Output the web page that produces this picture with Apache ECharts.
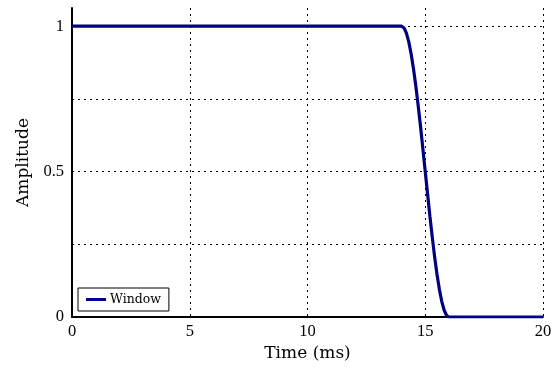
<!DOCTYPE html>
<html><head><meta charset="utf-8">
<script src="https://cdn.jsdelivr.net/npm/echarts@6/dist/echarts.min.js"></script>
<style>html,body{margin:0;padding:0;background:#fff}#c{width:555px;height:367px}</style>
</head><body><div id="c"></div>
<script>
var timeMs = [0, 14.0, 14.1, 14.2, 14.3, 14.4, 14.5, 14.6, 14.7, 14.8, 14.9, 15.0, 15.1, 15.2, 15.3, 15.4, 15.5, 15.6, 15.7, 15.8, 15.9, 16.0, 20];
var amplitude = [1, 1, 0.994, 0.976, 0.946, 0.905, 0.854, 0.794, 0.727, 0.655, 0.578, 0.5, 0.422, 0.345, 0.273, 0.206, 0.146, 0.095, 0.054, 0.024, 0.006, 0, 0];
var xTicks = [0, 5, 10, 15, 20];
var yLabels = [0, 0.5, 1];
var seriesName = 'Window';

var serif = '"DejaVu Serif", "Liberation Serif", serif';
var tickFont = '"Liberation Serif", "DejaVu Serif", serif';
var chart = echarts.init(document.getElementById('c'), null, {renderer: 'canvas'});
var pts = timeMs.map(function (t, i) { return [t, amplitude[i]]; });
chart.setOption({
  animation: false,
  backgroundColor: '#fff',
  grid: {left: 72, right: 12, top: 8, bottom: 50},
  legend: {
    show: true, left: 78, bottom: 56,
    data: [seriesName],
    icon: 'rect', itemWidth: 20, itemHeight: 3, itemGap: 6, itemStyle: {borderWidth: 0},
    padding: [5, 8],
    borderColor: '#000', borderWidth: 1, backgroundColor: '#fff',
    textStyle: {fontFamily: serif, fontSize: 12.5, color: '#000', padding: [0, 0, 0, -1]}
  },
  xAxis: {
    type: 'value', min: xTicks[0], max: xTicks[xTicks.length - 1], interval: 5,
    name: 'Time (ms)', nameLocation: 'middle', nameGap: 26,
    nameTextStyle: {fontFamily: serif, fontSize: 17, color: '#000'},
    axisLine: {show: true, lineStyle: {color: '#000', width: 2}},
    axisTick: {show: false},
    axisLabel: {fontFamily: tickFont, fontSize: 16.5, color: '#000', margin: 6},
    splitLine: {show: true, showMinLine: false, lineStyle: {color: '#000', type: [2, 4], width: 1}}
  },
  yAxis: {
    type: 'value', min: 0, max: 1.0625, interval: 0.25,
    name: 'Amplitude', nameLocation: 'middle', nameGap: 40, nameRotate: 90,
    nameTextStyle: {fontFamily: serif, fontSize: 17, color: '#000'},
    axisLine: {show: true, lineStyle: {color: '#000', width: 2}},
    axisTick: {show: false},
    axisLabel: {fontFamily: tickFont, fontSize: 16.5, color: '#000', margin: 8, showMaxLabel: false,
      formatter: function (v) { return yLabels.indexOf(v) >= 0 ? String(v) : ''; }},
    splitLine: {show: true, showMinLine: false, showMaxLine: false, lineStyle: {color: '#000', type: [2, 4], width: 1}}
  },
  series: [{
    name: seriesName, type: 'line', data: pts, showSymbol: false, smooth: false,
    lineStyle: {color: '#000080', width: 3.2}, itemStyle: {color: '#000080'}
  }]
});
</script></body></html>
